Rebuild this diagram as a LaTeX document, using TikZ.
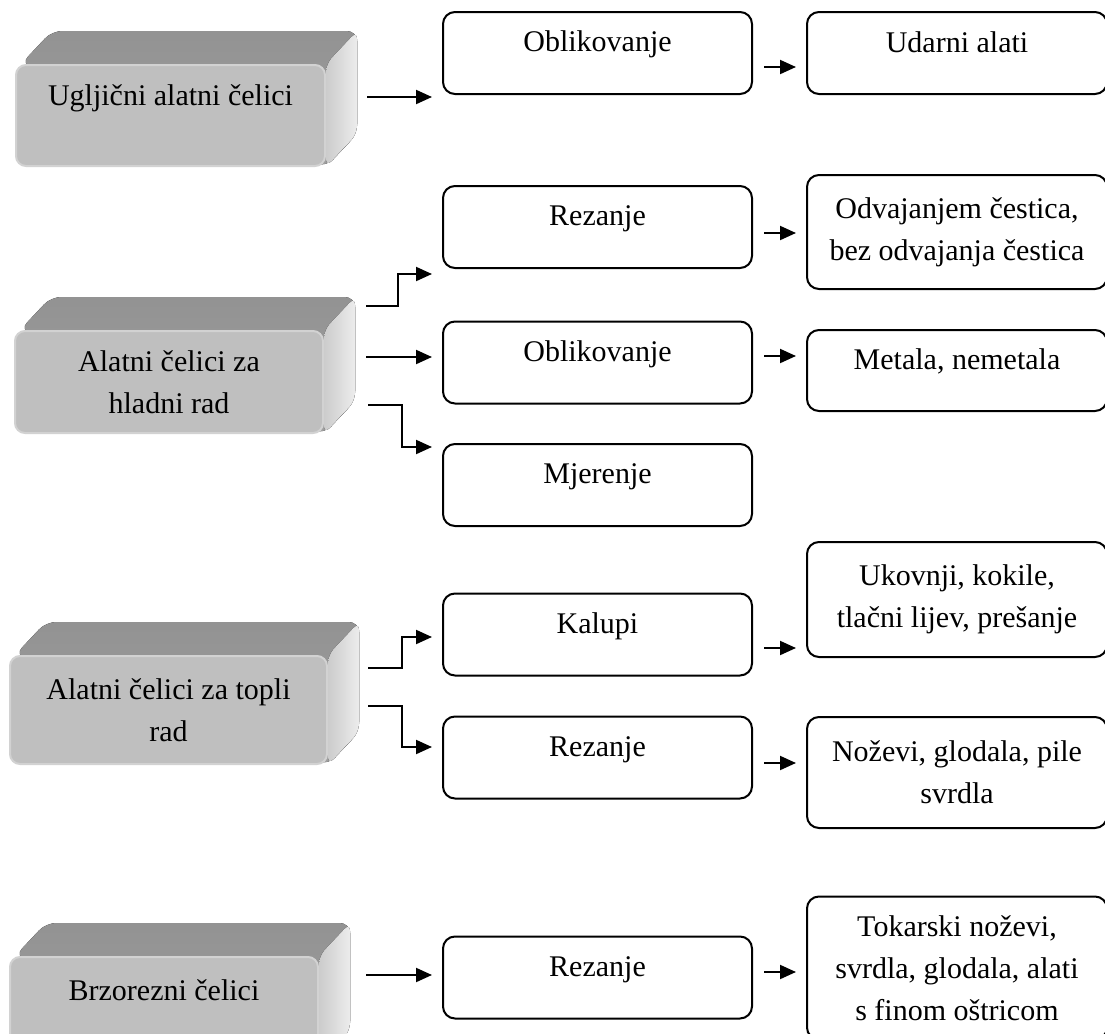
\documentclass[tikz,border=0pt]{standalone}
\usepackage{fontspec}
\setmainfont{Liberation Serif}
\usetikzlibrary{arrows.meta,calc,backgrounds}

\begin{document}
\begin{tikzpicture}[x=0.5pt,y=-0.5pt,
	font=\fontsize{15}{21}\selectfont,
	kutija/.style={draw, line width=1pt, rounded corners=6pt, align=center, inner sep=2pt},
	srednja/.style={kutija, minimum width=154.5pt, minimum height=41pt, text height=10pt, text depth=11.5pt},
	desna/.style={kutija, minimum width=150pt},
	celik/.style={fill=gray!50, draw=gray!35, line width=1pt, rounded corners=5pt, align=center, inner sep=2pt},
	strelica/.style={line width=1pt, -{Triangle[length=8pt,width=7pt]}, shorten >=5pt}]
			\useasboundingbox (0,0) rectangle (1105,1034);
			
			% celici (lijevo)
			\node[celik, minimum width=154.5pt, minimum height=50.5pt, text height=10pt, text depth=20pt] (u1) at (170.5,115.5) {Ugljični alatni čelici};
			\node[celik, minimum width=154pt, minimum height=51pt] (u2) at (169,382) {Alatni čelici za\\ hladni rad};
			\node[celik, minimum width=158.5pt, minimum height=54pt] (u3) at (168.5,710) {Alatni čelici za topli\\ rad};
			\node[celik, minimum width=154pt, minimum height=53pt, text height=10pt, text depth=20pt] (u4) at (164,1010) {Brzorezni čelici};
			
			\begin{scope}[on background layer]
			\foreach \u in {u1,u2,u3,u4}{
				\fill[top color=gray!85, bottom color=gray!75, rounded corners=5pt] ([xshift=3pt]\u.north west) -- ++(31,-33) -- ($(\u.north east)+(31,-33)$) -- ($(\u.south east)+(31,-33)$) -- (\u.south east) -- cycle;
				\fill[left color=gray!40, right color=gray!15, rounded corners=4pt] (\u.north east) -- ($(\u.north east)+(31,-33)$) -- ($(\u.south east)+(31,-33)$) -- (\u.south east) -- cycle;
			}
			\end{scope}
			
			% primjena (sredina)
			\node[srednja] (m1) at (597.5,53) {Oblikovanje};
			\node[srednja] (m2) at (597.5,227) {Rezanje};
			\node[srednja] (m3) at (597.5,362.5) {Oblikovanje};
			\node[srednja] (m4) at (597.5,485) {Mjerenje};
			\node[srednja] (m5) at (597.5,634.5) {Kalupi};
			\node[srednja] (m6) at (597.5,757.5) {Rezanje};
			\node[srednja] (m7) at (597.5,977.5) {Rezanje};
			
			% alati (desno)
			\node[desna, minimum height=41pt, text height=10pt, text depth=11pt] (r1) at (957,53) {Udarni alati};
			\node[desna, minimum height=57pt] (r2) at (957,232) {Odvajanjem čestica,\\ bez odvajanja čestica};
			\node[desna, minimum height=40.5pt, text height=10pt, text depth=11pt] (r3) at (957,370.5) {Metala, nemetala};
			\node[desna, minimum height=57.5pt] (r5) at (957,599.5) {Ukovnji, kokile,\\ tlačni lijev, prešanje};
			\node[desna, minimum height=55.5pt] (r6) at (957,772.5) {Noževi, glodala, pile\\ svrdla};
			\node[desna, minimum height=71.5pt] (r7) at (957,968) {Tokarski noževi,\\ svrdla, glodala, alati\\ s finom oštricom};
			
			% strelice
			\coordinate (s1) at (367,97);
			\coordinate (s2a) at (366,306);
			\coordinate (k2a) at (398,274);
			\coordinate (s2b) at (366,357);
			\coordinate (s2c) at (368,405);
			\coordinate (k2c) at (402,447);
			\coordinate (s3a) at (368,668);
			\coordinate (k3a) at (402,637);
			\coordinate (s3b) at (368,706);
			\coordinate (k3b) at (402,747);
			\coordinate (s4) at (366,975);
			
			\draw[strelica] (s1) -- (s1 -| m1.west);
			\draw[strelica] (s2a) -| (k2a) -- (k2a -| m2.west);
			\draw[strelica] (s2b) -- (s2b -| m3.west);
			\draw[strelica] (s2c) -| (k2c) -- (k2c -| m4.west);
			\draw[strelica] (s3a) -| (k3a) -- (k3a -| m5.west);
			\draw[strelica] (s3b) -| (k3b) -- (k3b -| m6.west);
			\draw[strelica] (s4) -- (s4 -| m7.west);
			
			\foreach \a/\b/\d in {m1/r1/-7pt, m2/r2/-3pt, m3/r3/3.25pt, m5/r5/-6.75pt, m6/r6/-2.75pt, m7/r7/2.75pt}
				\draw[strelica, shorten <=5.5pt] ([yshift=\d]\a.east) -- ([yshift=\d]\a.east -| \b.west);
\end{tikzpicture}
\end{document}
